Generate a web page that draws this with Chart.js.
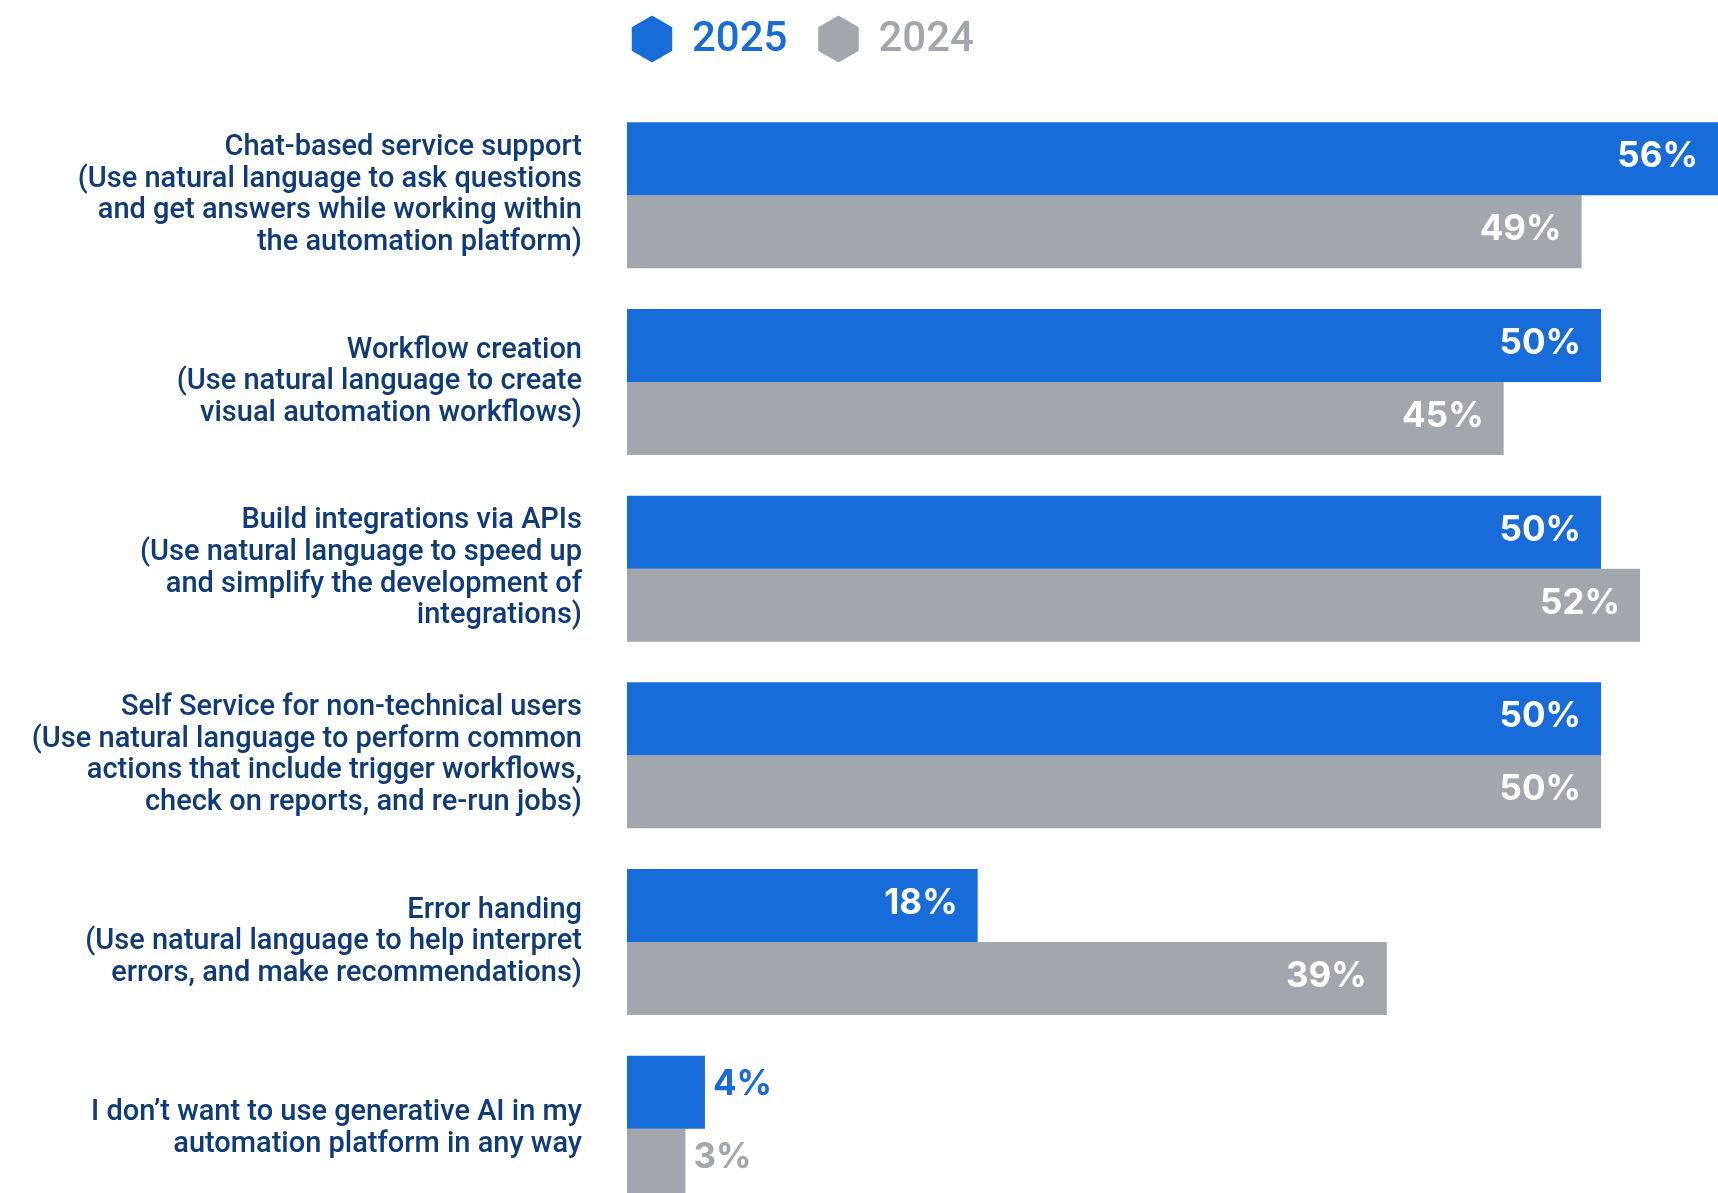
<!DOCTYPE html>
<html>
<head>
<meta charset="utf-8">
<title>Generative AI use cases</title>
<script src="https://cdn.jsdelivr.net/npm/chart.js@4.4.1/dist/chart.umd.min.js"></script>
<style>
  html, body { margin: 0; padding: 0; background: #ffffff; overflow: hidden; }
  #wrap { width: 1718px; height: 1222px; }
</style>
</head>
<body>
<div id="wrap"><canvas id="useCaseChart" width="1718" height="1222"></canvas></div>
<script>
const categories = [
    ["Chat-based service support", "(Use natural language to ask questions", "and get answers while working within", "the automation platform)"],
    ["Workflow creation", "(Use natural language to create", "visual automation workflows)"],
    ["Build integrations via APIs", "(Use natural language to speed up", "and simplify the development of", "integrations)"],
    ["Self Service for non-technical users", "(Use natural language to perform common", "actions that include trigger workflows,", "check on reports, and re-run jobs)"],
    ["Error handing", "(Use natural language to help interpret", "errors, and make recommendations)"],
    ["I don’t want to use generative AI in my", "automation platform in any way"]
];
const seriesNames = ["2025", "2024"];
const values2025 = [56, 50, 50, 50, 18, 4];
const values2024 = [49, 45, 52, 50, 39, 3];

const BLUE = '#186cd9';
const GRAY = '#a2a6ad';
const NAVY = '#0f3b7a';

// Sechseck für die Legende
function hexPath(ctx, cx, cy, r) {
    ctx.beginPath();
    for (let i = 0; i < 6; i++) {
        const a = Math.PI / 180 * (60 * i - 90);
        const px = cx + r * Math.cos(a);
        const py = cy + r * Math.sin(a);
        if (i === 0) ctx.moveTo(px, py); else ctx.lineTo(px, py);
    }
    ctx.closePath();
}

const hexLegend = {
    id: 'hexLegend',
    afterDraw(chart) {
        const ctx = chart.ctx;
        let x = 632;
        const cy = 39;
        ctx.save();
        ctx.font = '500 42px Roboto';
        ctx.textBaseline = 'middle';
        ctx.textAlign = 'left';
        chart.data.datasets.forEach(ds => {
            ctx.fillStyle = ds.backgroundColor;
            hexPath(ctx, x + 20, cy, 22.5);
            ctx.lineJoin = 'round';
            ctx.strokeStyle = ds.backgroundColor;
            ctx.lineWidth = 1.5;
            ctx.fill();
            ctx.stroke();
            ctx.fillText(ds.label, x + 60, cy + 1);
            x += 60 + ctx.measureText(ds.label).width + 31;
        });
        ctx.restore();
    }
};

// Prozentwerte an den Balken
const barValues = {
    id: 'barValues',
    afterDatasetsDraw(chart) {
        const ctx = chart.ctx;
        ctx.save();
        ctx.font = '700 35px Inter';
        ctx.textBaseline = 'middle';
        chart.data.datasets.forEach((ds, di) => {
            const meta = chart.getDatasetMeta(di);
            meta.data.forEach((bar, i) => {
                const v = ds.data[i];
                const txt = v + '%';
                if (v >= 10) {
                    ctx.fillStyle = '#ffffff';
                    ctx.textAlign = 'right';
                    ctx.fillText(txt, bar.x - 20, bar.y - 2);
                } else {
                    ctx.fillStyle = ds.backgroundColor;
                    ctx.textAlign = 'left';
                    ctx.fillText(txt, bar.x + 8, bar.y - 8);
                }
            });
        });
        ctx.restore();
    }
};

new Chart(document.getElementById('useCaseChart'), {
    type: 'bar',
    data: {
        labels: categories,
        datasets: [
            { label: seriesNames[0], data: values2025, backgroundColor: BLUE },
            { label: seriesNames[1], data: values2024, backgroundColor: GRAY }
        ]
    },
    options: {
        indexAxis: 'y',
        responsive: false,
        animation: false,
        devicePixelRatio: 1,
        categoryPercentage: 0.782,
        barPercentage: 1.0,
        borderWidth: 0,
        layout: { padding: { top: 102, right: 0, bottom: 0, left: 0 } },
        plugins: {
            legend: { display: false },
            tooltip: { enabled: false }
        },
        scales: {
            x: {
                display: false,
                min: 0,
                max: 56
            },
            y: {
                afterFit(scale) {
                    // feste Breite, keine Extra-Abstände durch mehrzeilige Labels
                    scale.width = 627;
                    scale.paddingTop = 0;
                    scale.paddingBottom = 0;
                },
                grid: { display: false, drawTicks: false },
                border: { display: false },
                ticks: {
                    padding: 45,
                    color: NAVY,
                    crossAlign: 'near',
                    font: { family: 'Roboto', size: 29, weight: '500', lineHeight: 1.093 }
                }
            }
        }
    },
    plugins: [hexLegend, barValues]
});
</script>
</body>
</html>
